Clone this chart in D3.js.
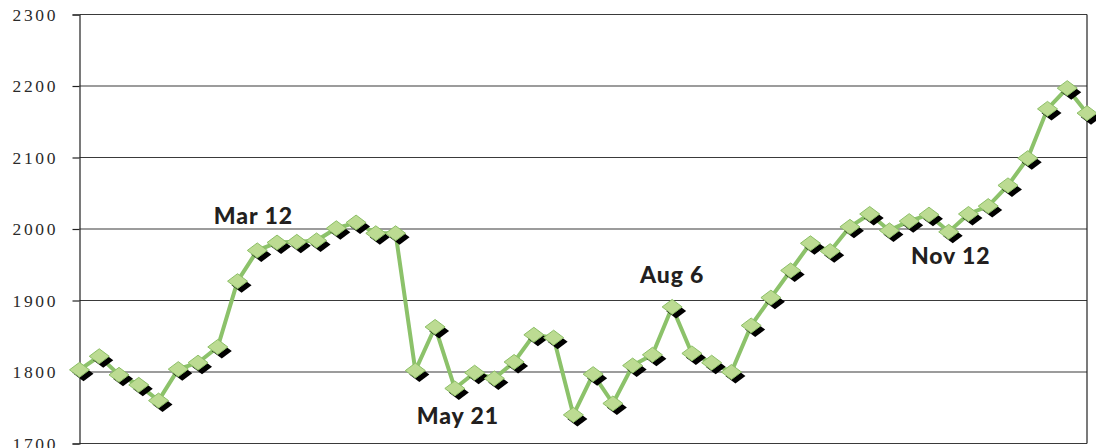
<!DOCTYPE html>
<html>
<head>
<meta charset="utf-8">
<script src="https://cdn.jsdelivr.net/npm/d3@7"></script>
<style>
  html, body { margin: 0; padding: 0; background: #fff; }
  svg { display: block; }
</style>
</head>
<body>
<div id="chart"></div>
<script>
// weekly values (52 points)
const values = [
  1803, 1822, 1796, 1782, 1760, 1804, 1813, 1835, 1927, 1970,
  1981, 1982, 1984, 2001, 2009, 1994, 1994, 1802, 1863, 1777,
  1799, 1791, 1814, 1852, 1848, 1740, 1797, 1756, 1809, 1824,
  1891, 1826, 1813, 1800, 1865, 1904, 1942, 1980, 1969, 2003,
  2021, 1998, 2011, 2020, 1996, 2021, 2032, 2061, 2099, 2168,
  2197, 2162
];
const yTicks = [1700, 1800, 1900, 2000, 2100, 2200, 2300];
// annotations: text, anchor in data units (week index, value of baseline)
const noteText = ["Mar 12", "May 21", "Aug 6", "Nov 12"];
const noteIndex = [8.8, 19.15, 30.0, 44.1];
const noteValue = [2007, 1727, 1925, 1951];

const W = 1096, H = 448;
const margin = { top: 14.5, right: 9, bottom: 4.5, left: 79.5 };
const width = W - margin.left - margin.right;
const height = H - margin.top - margin.bottom;

const svg = d3.select("#chart").append("svg")
  .attr("width", W)
  .attr("height", H);

const g = svg.append("g")
  .attr("transform", `translate(${margin.left},${margin.top})`);

const x = d3.scaleLinear().domain([0, values.length - 1]).range([0, width]);
const y = d3.scaleLinear().domain([1700, 2300]).range([height, 0]);

// gridlines
g.append("g")
  .selectAll("line")
  .data(yTicks)
  .join("line")
  .attr("x1", 0)
  .attr("x2", width)
  .attr("y1", d => y(d))
  .attr("y2", d => y(d))
  .attr("stroke", "#3a3a3a")
  .attr("stroke-width", 1.2);

// y axis
const yAxis = g.append("g")
  .call(d3.axisLeft(y).tickValues(yTicks).tickSize(7).tickPadding(14.5).tickFormat(d3.format("d")));
yAxis.select(".domain").attr("stroke", "#222").attr("stroke-width", 1.2);
yAxis.selectAll(".tick line").attr("stroke", "#222").attr("stroke-width", 1.2);
yAxis.selectAll("text")
  .attr("font-family", "'Liberation Serif', 'DejaVu Serif', serif")
  .attr("font-size", 17.5)
  .attr("letter-spacing", "2.6px")
  .attr("fill", "#2a2a2a");

// right border
g.append("line")
  .attr("x1", width).attr("x2", width)
  .attr("y1", 0).attr("y2", height)
  .attr("stroke", "#222")
  .attr("stroke-width", 1.2);

// series line
const line = d3.line()
  .x((d, i) => x(i))
  .y(d => y(d));

g.append("path")
  .datum(values)
  .attr("fill", "none")
  .attr("stroke", "#8cc26a")
  .attr("stroke-width", 4)
  .attr("stroke-linejoin", "round")
  .attr("d", line);

// markers with drop shadow
const diamond = "M0,-7.5 L10,0 L0,7.5 L-10,0 Z";
const markers = g.append("g")
  .selectAll("g")
  .data(values)
  .join("g")
  .attr("transform", (d, i) => `translate(${x(i)},${y(d)})`);

markers.append("path")
  .attr("d", diamond)
  .attr("transform", "translate(4,4)")
  .attr("fill", "#000");

markers.append("path")
  .attr("d", diamond)
  .attr("fill", "#bcdb92")
  .attr("stroke", "#8cbf66")
  .attr("stroke-width", 1);

// annotations
g.append("g")
  .selectAll("text")
  .data(noteText)
  .join("text")
  .attr("x", (d, i) => x(noteIndex[i]))
  .attr("y", (d, i) => y(noteValue[i]))
  .attr("text-anchor", "middle")
  .attr("font-family", "Lato, 'Open Sans', sans-serif")
  .attr("font-weight", 900)
  .attr("font-size", 23)
  .attr("letter-spacing", "0.9px")
  .attr("fill", "#231f20")
  .text(d => d);
</script>
</body>
</html>
